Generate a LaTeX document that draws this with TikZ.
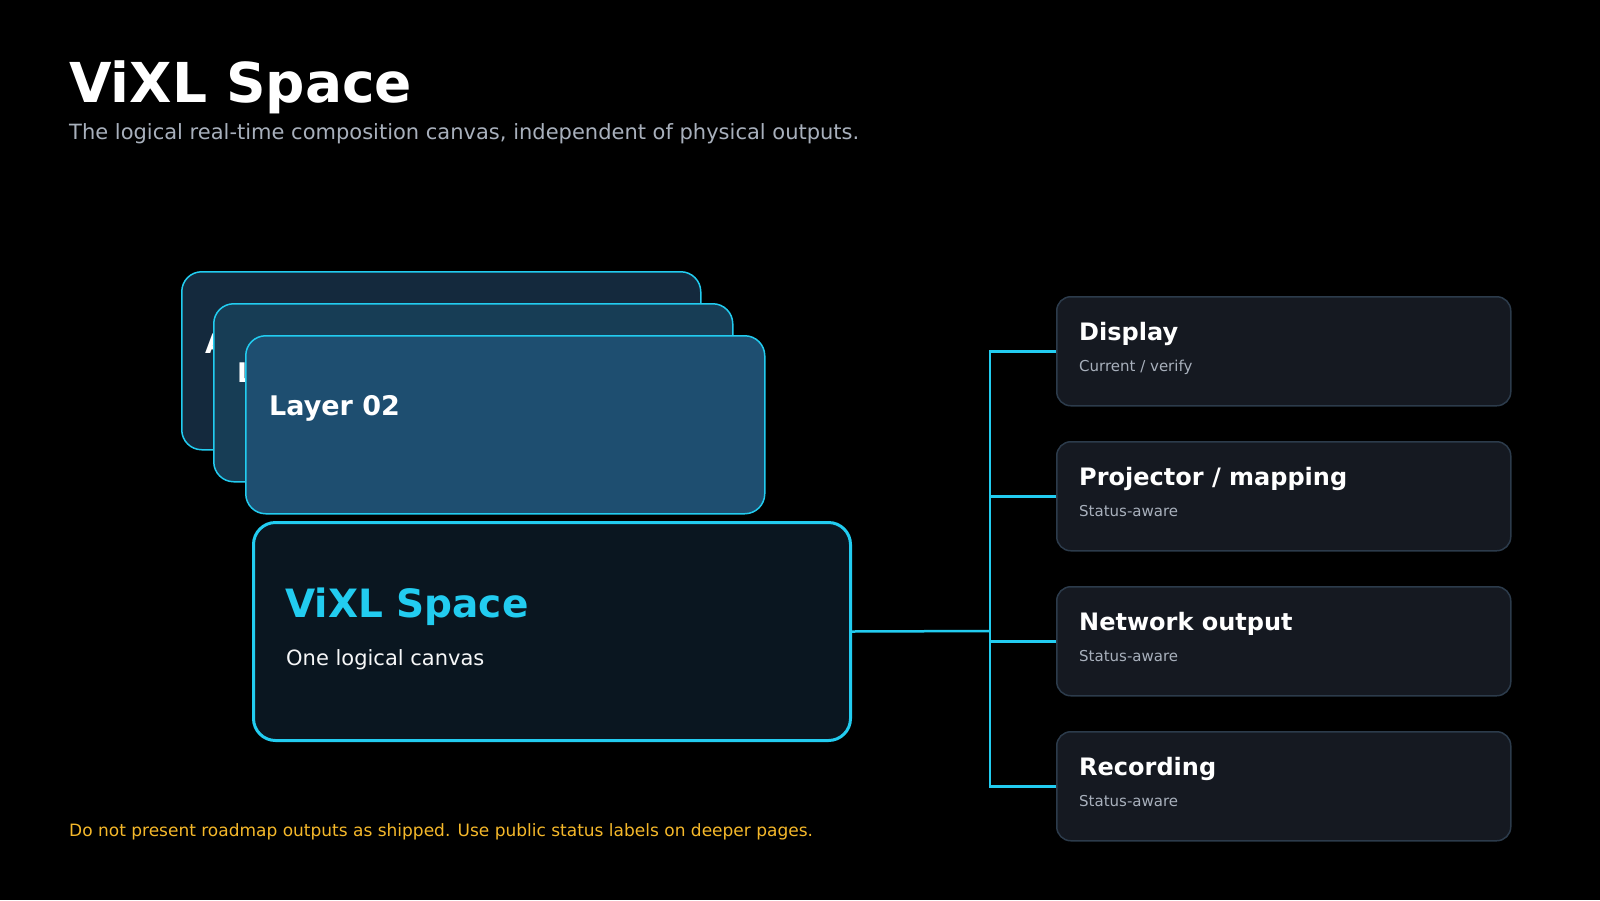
\documentclass[tikz,border=0pt]{standalone}
\usepackage{fontspec}
\setmainfont{DejaVu Sans}
\definecolor{cyanl}{HTML}{22CCF0}
\definecolor{bk}{HTML}{000000}
\definecolor{l0}{HTML}{14293D}
\definecolor{l1}{HTML}{173D55}
\definecolor{l2}{HTML}{1E4E70}
\definecolor{mainf}{HTML}{0A1620}
\definecolor{outf}{HTML}{151921}
\definecolor{outd}{HTML}{2C3B4B}
\definecolor{subg}{HTML}{A8B0BC}
\definecolor{warn}{HTML}{F5B82A}
\begin{document}
\begin{tikzpicture}[x=1pt,y=-1pt,
  layer/.style={draw=cyanl,line width=1.5pt,rounded corners=20pt,anchor=north west,minimum width=519pt,minimum height=178pt,inner sep=0pt},
  ltext/.style={anchor=west,text=white,font=\bfseries\fontsize{27}{30}\selectfont,inner sep=0pt},
  outbox/.style={draw=outd,fill=outf,line width=1.5pt,rounded corners=14pt,anchor=north west,minimum width=454pt,minimum height=109pt,inner sep=0pt},
  otitle/.style={anchor=base west,text=white,font=\bfseries\fontsize{24}{28}\selectfont,inner sep=0pt},
  osub/.style={anchor=base west,text=subg,font=\fontsize{15}{18}\selectfont,inner sep=0pt},
  conn/.style={draw=cyanl,line width=2.5pt}]
\fill[bk] (0,0) rectangle (1600,900);
\useasboundingbox (0,0) rectangle (1600,900);
\node[anchor=base west,text=white,inner sep=0pt,font=\bfseries\fontsize{55}{60}\selectfont] (title) at (69,102) {ViXL Space};
\node[anchor=base west,text=subg,inner sep=0pt,font=\fontsize{21}{24}\selectfont] (subtitle) at (69,139) {The logical real-time composition canvas, independent of physical outputs.};
\node[layer,fill=l0] (L0) at (181,271) {};
\node[ltext] (L0t) at (205,343) {Audio};
\node[layer,fill=l1] (L1) at (213,303) {};
\node[ltext] (L1t) at (237,375) {Layer 01};
\node[layer,fill=l2] (L2) at (245,335) {};
\node[ltext] (L2t) at (269,408) {Layer 02};
\node[draw=cyanl,fill=mainf,line width=3pt,rounded corners=22pt,anchor=north west,minimum width=597pt,minimum height=218pt,inner sep=0pt] (main) at (252,521) {};
\node[anchor=base west,text=cyanl,inner sep=0pt,font=\bfseries\fontsize{39}{44}\selectfont] (mt) at (285,617) {ViXL Space};
\node[anchor=base west,text=white!90!subg,inner sep=0pt,font=\fontsize{21}{24}\selectfont] (ms) at (286,665) {One logical canvas};
\node[outbox] (o1) at (1056,296) {};
\node[otitle] at (1079,340) {Display};
\node[osub] at (1079,371) {Current / verify};
\node[outbox] (o2) at (1056,441) {};
\node[otitle] at (1079,485) {Projector / mapping};
\node[osub] at (1079,516) {Status-aware};
\node[outbox] (o3) at (1056,586) {};
\node[otitle] at (1079,630) {Network output};
\node[osub] at (1079,661) {Status-aware};
\node[outbox] (o4) at (1056,731) {};
\node[otitle] at (1079,775) {Recording};
\node[osub] at (1079,806) {Status-aware};
\coordinate (bus) at (990,631);
\draw[conn] (main.east) -- (bus);
\draw[conn] (o1.west) -- (o1.west -| bus) -- (o4.west -| bus) -- (o4.west);
\draw[conn] (o2.west) -- (o2.west -| bus);
\draw[conn] (o3.west) -- (o3.west -| bus);
\node[anchor=base west,text=warn,inner sep=0pt,font=\fontsize{17}{20}\selectfont] (foot) at (69,836) {Do not present roadmap outputs as shipped. Use public status labels on deeper pages.};
\end{tikzpicture}
\end{document}
